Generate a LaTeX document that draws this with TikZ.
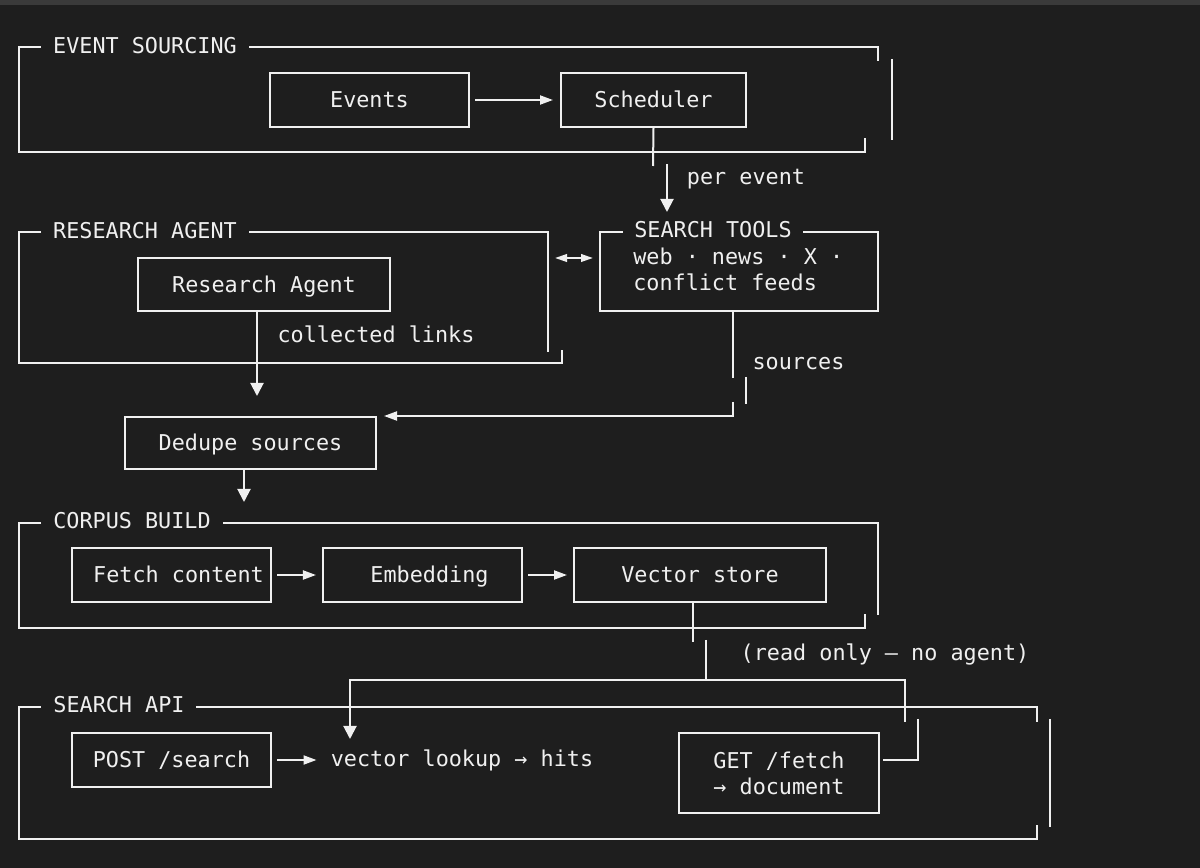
\documentclass[tikz,border=0pt]{standalone}
\usepackage{fontspec}
\usepackage{tikz}
\usetikzlibrary{arrows.meta, positioning}
\newfontfamily\monofnt{DejaVu Sans Mono}
\definecolor{bgcol}{HTML}{1E1E1E}
\definecolor{barcol}{HTML}{3A3A3A}
\definecolor{fg}{HTML}{F0F0F0}

\begin{document}
\begin{tikzpicture}[
    x=0.25mm, y=-0.25mm,
    every node/.style={text=fg, font={\monofnt\fontsize{15.5pt}{18.5pt}\selectfont}},
    box/.style={draw=fg, line width=0.5mm, minimum height=13.5mm, inner sep=0pt,
                text height=15.2pt, text depth=3.9pt},
    lbl/.style={inner sep=0pt, anchor=base},
    ln/.style={draw=fg, line width=0.5mm},
    harr/.style={ln, -{Triangle[length=3.25mm, width=2.25mm]}},
    darr/.style={ln, -{Triangle[length=3.25mm, width=3.25mm]}},
    dblarr/.style={ln, {Triangle[length=3mm, width=1.9mm]}-{Triangle[length=3mm, width=1.9mm]}},
]
\useasboundingbox (0,0) rectangle (1200,868);
\fill[bgcol] (0,0) rectangle (1200,868);
\fill[barcol] (0,0) rectangle (1200,5);

\draw[ln] (41,46.7) -- (19,46.7) -- (19,152) -- (865,152) -- (865,138);
\draw[ln] (249,46.7) -- (878,46.7) -- (878,61);
\draw[ln] (892,59) -- (892,140);
\node[lbl] (esl) at (145,53.5) {EVENT SOURCING};
\node[box, minimum width=49.75mm] (events) at (369.5,100) {Events};
\node[box, minimum width=46.25mm] (sched)  at (653.5,100) {Scheduler};

\draw[ln] (41,232) -- (19,232) -- (19,363) -- (562,363) -- (562,350);
\draw[ln] (249,232) -- (548,232) -- (548,352);
\node[lbl] (ral) at (145,239) {RESEARCH AGENT};
\node[box, minimum width=63mm, minimum height=13.25mm] (agent) at (264,284.5) {Research Agent};
\node[lbl] (links) at (376,343) {collected links};

\node[ln, minimum width=69.5mm, minimum height=19.75mm] (tools) at (739,271.5) {};
\node[lbl, fill=bgcol, inner xsep=2.9mm, inner ysep=1mm] (stl) at (713,238) {SEARCH TOOLS};
\node[lbl, anchor=base west] (tw1) at (633,265) {web · news · X ·};
\node[lbl, anchor=base west] (tw2) at (633,291) {conflict feeds};
\node[lbl] (pev) at (746,185) {per event};
\node[lbl] (src) at (798.5,370) {sources};

\node[box, minimum width=62.75mm, minimum height=13mm] (dedupe) at (250.5,443) {Dedupe sources};

\draw[ln] (41,523) -- (19,523) -- (19,628) -- (865,628) -- (865,614);
\draw[ln] (223,523) -- (878,523) -- (878,615);
\node[lbl] (cbl) at (132,529) {CORPUS BUILD};
\node[box, minimum width=49.75mm] (fetch)  at (171.5,575) {\hspace*{3.5mm}Fetch content};
\node[box, minimum width=49.75mm] (embed)  at (422.5,575) {\hspace*{3.5mm}Embedding};
\node[box, minimum width=63mm]    (vstore) at (700,575) {Vector store};
\node[lbl] (ro) at (885,661) {(read only — no agent)};

\draw[ln] (41,707) -- (19,707) -- (19,839) -- (1037,839) -- (1037,825);
\draw[ln] (196,707) -- (1037,707) -- (1037,722);
\draw[ln] (1050,719) -- (1050,827);
\node[lbl] (sal) at (119,713) {SEARCH API};
\node[box, minimum width=49.75mm] (post) at (171.5,760) {POST /search};
\node[lbl] (lookup) at (462,767) {vector lookup → hits};
\node[box, minimum width=50mm, minimum height=20mm, align=center,
      text height={}, text depth={}] (getf) at (779,773) {GET /fetch\\→ document};

\coordinate (pe1) at (653,166);
\coordinate (pe2) at (667,164);
\coordinate (pe3) at (667,212);
\coordinate (raR) at (555,258);
\coordinate (stL) at (593,258);
\coordinate (ag1) at (257,396);
\coordinate (ts1) at (733,378);
\coordinate (ts2) at (746,377);
\coordinate (ts3) at (746,404);
\coordinate (ts4) at (733,402);
\coordinate (dd1) at (244,502);
\coordinate (vs1) at (693,642);
\coordinate (vs2) at (706,640);
\coordinate (vs3) at (706,680);
\coordinate (lk1) at (905,722);
\coordinate (lk2) at (350,739);
\coordinate (gf1) at (918,719);
\coordinate (gf2) at (883,760);

\draw[harr] ([xshift=1.25mm]events.east) -- ([xshift=-1.75mm]sched.west);
\draw[ln] (sched.south) -- (pe1);
\draw[darr] (pe2) -- (pe3);
\draw[dblarr] (raR) -- (stL);
\draw[darr] (agent.south -| ag1) -- (ag1);
\draw[ln] (tools.south -| ts1) -- (ts1);
\draw[ln] (ts2) -- (ts3);
\draw[harr] (ts4) |- ([xshift=1.75mm]dedupe.north east);
\draw[darr] (dedupe.south -| dd1) -- (dd1);
\draw[harr] ([xshift=1.25mm]fetch.east) -- ([xshift=-1.5mm]embed.west);
\draw[harr] ([xshift=1.25mm]embed.east) -- ([xshift=-1.5mm]vstore.west);
\draw[ln] (vstore.south -| vs1) -- (vs1);
\draw[ln] (vs2) -- (vs3);
\draw[darr] (lk1) -- (lk1 |- vs3) -| (lk2);
\draw[ln] (gf1) |- (gf2);
\draw[harr] ([xshift=1.25mm]post.east) -- ([xshift=-3.5mm]lookup.west |- post.east);
\end{tikzpicture}
\end{document}
